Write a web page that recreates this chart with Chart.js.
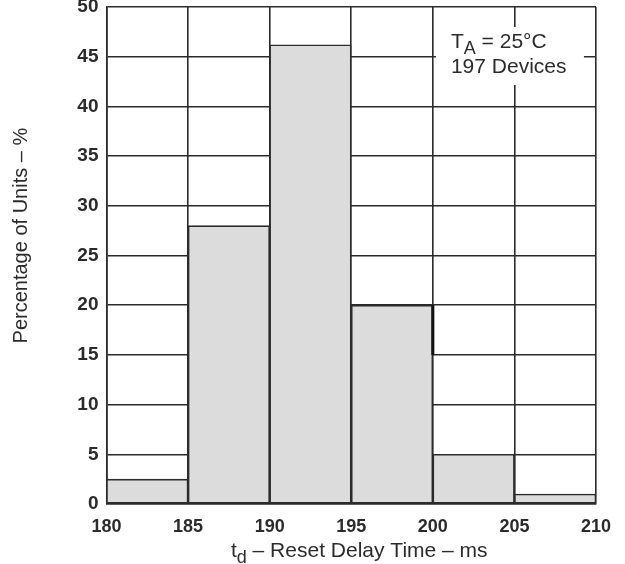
<!DOCTYPE html>
<html>
<head>
<meta charset="utf-8">
<script src="https://cdn.jsdelivr.net/npm/chart.js@4.4.0/dist/chart.umd.min.js"></script>
<style>
  html, body { margin: 0; padding: 0; background: #fff; }
  #wrap { width: 625px; height: 564px; position: relative; }
</style>
</head>
<body>
<div id="wrap"><canvas id="c" width="625" height="564"></canvas></div>
<script>
// ---- data ----
const binStarts = [180, 185, 190, 195, 200, 205];
const binWidth = 5;
const percentUnits = [2.5, 28, 46.2, 20, 5, 1];
const xTicks = [180, 185, 190, 195, 200, 205, 210];
const yTicks = [0, 5, 10, 15, 20, 25, 30, 35, 40, 45, 50];
const xTitle = [{ t: 't' }, { t: 'd', sub: true }, { t: ' \u2013 Reset Delay Time \u2013 ms' }];
const yTitle = 'Percentage of Units \u2013 %';
const noteLine1 = [{ t: 'T' }, { t: 'A', sub: true }, { t: ' = 25\u00B0C' }];
const noteLine2 = '197 Devices';

const INK = '#2b2b2b';
const FONT = '"Liberation Sans", Arial, Helvetica, sans-serif';

function drawRich(ctx, parts, x, y, size, align) {
  const subSize = Math.round(size * 0.85);
  let total = 0;
  const widths = parts.map(p => {
    ctx.font = (p.sub ? subSize : size) + 'px ' + FONT;
    const w = ctx.measureText(p.t).width;
    total += w;
    return w;
  });
  let cx = align === 'center' ? x - total / 2 : x;
  parts.forEach((p, i) => {
    ctx.font = (p.sub ? subSize : size) + 'px ' + FONT;
    ctx.textAlign = 'left';
    ctx.textBaseline = 'alphabetic';
    ctx.fillText(p.t, cx, y + (p.sub ? size * 0.28 : 0));
    cx += widths[i];
  });
}

const decorPlugin = {
  id: 'decor',
  afterDraw(chart) {
    const ctx = chart.ctx;
    const a = chart.chartArea;
    const xs = chart.scales.x, ys = chart.scales.y;
    ctx.save();
    // small thick edge mark seen on the 195-200 bar's right side
    ctx.strokeStyle = '#111';
    ctx.lineWidth = 3;
    ctx.beginPath();
    ctx.moveTo(xs.getPixelForValue(200), ys.getPixelForValue(20));
    ctx.lineTo(xs.getPixelForValue(200), ys.getPixelForValue(15));
    ctx.stroke();

    ctx.fillStyle = INK;
    // y title
    ctx.save();
    ctx.translate(21, a.top + (a.bottom - a.top) * 0.46);
    ctx.rotate(-Math.PI / 2);
    ctx.font = '20px ' + FONT;
    ctx.textAlign = 'center';
    ctx.textBaseline = 'middle';
    ctx.fillText(yTitle, 0, 0);
    ctx.restore();
    // x title
    drawRich(ctx, xTitle, (a.left + a.right) / 2 + 8, 557, 21, 'center');
    // annotation box
    const bx = a.left + (a.right - a.left) * 0.673;
    const by = a.top + 20;
    const bw = 148, bh = 58;
    ctx.fillStyle = '#fff';
    ctx.fillRect(bx, by, bw, bh);
    ctx.fillStyle = INK;
    drawRich(ctx, noteLine1, bx + 15, by + 21, 21, 'left');
    ctx.font = '21px ' + FONT;
    ctx.textAlign = 'left';
    ctx.textBaseline = 'alphabetic';
    ctx.fillText(noteLine2, bx + 15, by + 46);
    ctx.restore();
  }
};

const gridOpts = { color: INK, lineWidth: 1.6, drawTicks: false, offset: false };

new Chart(document.getElementById('c'), {
  type: 'bar',
  data: {
    datasets: [{
      data: binStarts.map((s, i) => ({ x: s + binWidth / 2, y: percentUnits[i] })),
      backgroundColor: '#dcdcdc',
      borderColor: INK,
      borderWidth: 1.6,
      borderSkipped: false,
      barPercentage: 1,
      categoryPercentage: 1
    }]
  },
  options: {
    responsive: false,
    animation: false,
    layout: { padding: { top: 7, right: 29, left: 0, bottom: 0 } },
    plugins: { legend: { display: false }, tooltip: { enabled: false }, title: { display: false } },
    scales: {
      x: {
        type: 'linear',
        min: 180, max: 210,
        offset: false,
        z: 1,
        grid: gridOpts,
        border: { display: true, color: INK, width: 1.6 },
        afterBuildTicks: s => { s.ticks = xTicks.map(v => ({ value: v })); },
        afterFit: s => { s.height = 60; s.paddingLeft = 0; s.paddingRight = 0; },
        ticks: { color: INK, font: { family: FONT, size: 18, weight: 'bold' }, padding: 12, maxRotation: 0, autoSkip: false }
      },
      y: {
        min: 0, max: 50,
        z: 1,
        grid: gridOpts,
        border: { display: true, color: INK, width: 1.6 },
        afterBuildTicks: s => { s.ticks = yTicks.map(v => ({ value: v })); },
        afterFit: s => { s.width = 106.5; s.paddingTop = 0; s.paddingBottom = 0; },
        ticks: { color: INK, font: { family: FONT, size: 19, weight: 'bold' }, padding: 8, autoSkip: false }
      }
    }
  },
  plugins: [decorPlugin]
});
</script>
</body>
</html>
